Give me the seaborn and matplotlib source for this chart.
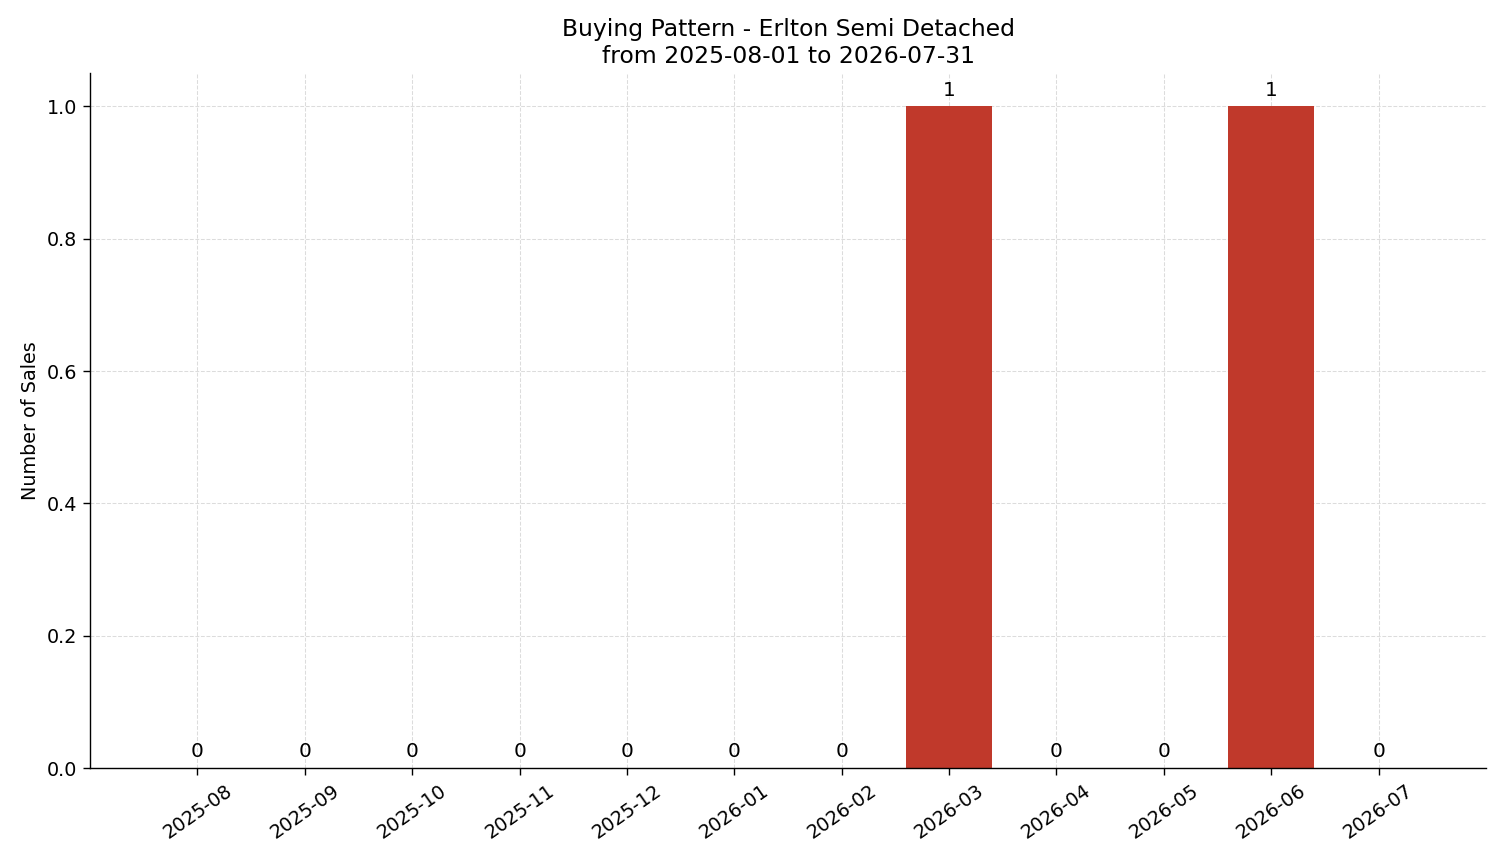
import matplotlib
matplotlib.use("Agg")
import matplotlib.pyplot as plt
import seaborn as sns
import pandas as pd

months = ["2025-08","2025-09","2025-10","2025-11","2025-12","2026-01","2026-02",
          "2026-03","2026-04","2026-05","2026-06","2026-07"]
sales = [0,0,0,0,0,0,0,1,0,0,1,0]

sns.set_style("white")
plt.rcParams['font.family'] = ['DejaVu Sans']
plt.rcParams.update({"text.color": "black", "axes.labelcolor": "black",
                     "xtick.color": "black", "ytick.color": "black",
                     "axes.edgecolor": "black"})
df = pd.DataFrame({"month": months, "sales": sales})

fig, ax = plt.subplots(figsize=(1501/125, 863/125), dpi=125)
sns.barplot(data=df, x="month", y="sales", color="#C0392B", saturation=1, width=0.8,
            linewidth=0, edgecolor="none", ax=ax)
for i, v in enumerate(sales):
    ax.text(i, v + 0.01, str(v), ha="center", va="bottom", fontsize=11.5)
ax.set_xlim(-1, 12)
ax.set_ylim(0, 1.05)
ax.grid(True, linestyle="--", linewidth=0.6, color="#dcdcdc")
ax.set_axisbelow(True)
ax.set_xlabel("")
ax.set_ylabel("Number of Sales", fontsize=11)
ax.set_title("Buying Pattern - Erlton Semi Detached\nfrom 2025-08-01 to 2026-07-31", fontsize=13.5)
ax.tick_params(axis="both", length=4, bottom=True, left=True, labelsize=11)
plt.setp(ax.get_xticklabels(), rotation=35)
sns.despine(ax=ax)
fig.subplots_adjust(left=0.06, right=0.99, top=0.915, bottom=0.11)
fig.savefig("out.png", dpi=125)
